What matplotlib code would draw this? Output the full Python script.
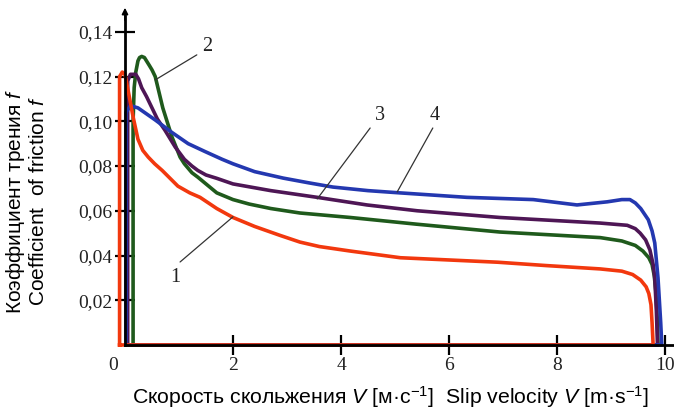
import matplotlib
matplotlib.use("Agg")
import matplotlib.pyplot as plt
from matplotlib.ticker import FuncFormatter
from matplotlib.transforms import ScaledTranslation

plt.rcParams['mathtext.fontset'] = 'custom'
plt.rcParams['mathtext.rm'] = 'Liberation Sans'
plt.rcParams['mathtext.it'] = 'Liberation Sans:italic'

# --- кривые f(V), 1..4 ---
v1 = [-0.1, -0.1, -0.05, 0.0, 0.08, 0.15, 0.24, 0.33, 0.43, 0.55, 0.69, 0.98, 1.2, 1.39,
      1.7, 2.0, 2.4, 2.87, 3.24, 3.6, 4.17, 5.1, 6.0, 6.9, 7.8, 8.8, 9.2, 9.4, 9.55,
      9.65, 9.7, 9.74, 9.76, 9.78]
f1 = [0.0, 0.120, 0.122, 0.121, 0.111, 0.102, 0.092, 0.087, 0.084, 0.081, 0.078, 0.071,
      0.068, 0.066, 0.061, 0.057, 0.053, 0.049, 0.046, 0.044, 0.042, 0.039, 0.038, 0.037,
      0.0355, 0.034, 0.033, 0.0315, 0.029, 0.026, 0.023, 0.018, 0.010, 0.0]

v2 = [0.15, 0.15, 0.17, 0.20, 0.24, 0.27, 0.31, 0.36, 0.45, 0.50, 0.56, 0.63, 0.70, 0.87,
      1.02, 1.1, 1.24, 1.35, 1.5, 1.7, 2.0, 2.3, 2.7, 3.24, 4.17, 5.4, 6.94, 8.8, 9.2,
      9.45, 9.59, 9.7, 9.76, 9.8, 9.83, 9.86, 9.87]
f2 = [0.0, 0.100, 0.115, 0.122, 0.127, 0.1285, 0.129, 0.1285, 0.125, 0.123, 0.120, 0.113,
      0.106, 0.093, 0.084, 0.081, 0.077, 0.075, 0.072, 0.068, 0.065, 0.063, 0.061, 0.059,
      0.057, 0.054, 0.0505, 0.048, 0.0465, 0.0445, 0.042, 0.039, 0.036, 0.031, 0.024,
      0.010, 0.0]

v3 = [0.05, 0.05, 0.10, 0.20, 0.25, 0.31, 0.40, 0.50, 0.60, 0.74, 0.93, 1.1, 1.24, 1.35,
      1.5, 1.7, 2.0, 2.7, 3.56, 4.48, 5.41, 6.94, 8.8, 9.3, 9.45, 9.54, 9.64, 9.72, 9.78,
      9.81, 9.84, 9.86]
f3 = [0.0, 0.118, 0.121, 0.121, 0.119, 0.115, 0.111, 0.106, 0.101, 0.096, 0.0885, 0.083,
      0.080, 0.078, 0.076, 0.0745, 0.072, 0.069, 0.066, 0.0626, 0.060, 0.057, 0.0545,
      0.0535, 0.052, 0.050, 0.047, 0.0425, 0.036, 0.030, 0.015, 0.0]

v4 = [0.02, 0.02, 0.10, 0.24, 0.56, 0.87, 1.17, 1.48, 1.8, 2.0, 2.4, 2.93, 3.4, 3.85,
      4.5, 5.09, 6.33, 7.56, 8.37, 8.93, 9.2, 9.35, 9.45, 9.55, 9.69, 9.76, 9.81, 9.87,
      9.92, 9.94]
f4 = [0.0, 0.104, 0.107, 0.106, 0.1006, 0.095, 0.090, 0.0865, 0.083, 0.081, 0.0775,
      0.0746, 0.0725, 0.0706, 0.069, 0.068, 0.066, 0.065, 0.0626, 0.064, 0.065, 0.065,
      0.0635, 0.061, 0.056, 0.051, 0.0456, 0.030, 0.010, 0.0]

x_ticks = [0, 2, 4, 6, 8, 10]
y_ticks = [0.02, 0.04, 0.06, 0.08, 0.10, 0.12, 0.14]

# номера кривых: текст, начало выноски, точка на кривой
labels = ['1', '2', '3', '4']
label_pos = [(0.93, 0.030), (1.52, 0.1333), (4.72, 0.1028), (5.74, 0.1028)]
leader_start = [(1.02, 0.0371), (1.33, 0.1297), (4.54, 0.097), (5.70, 0.097)]
leader_end = [(2.0, 0.0573), (0.56, 0.1185), (3.56, 0.0653), (5.04, 0.0684)]

fig = plt.figure(figsize=(6.74, 4.12), dpi=100)
ax = fig.add_axes([0.1614, 0.1464, 0.8373, 0.8415])

curves = [
    (v2, f2, '#1f5a1c'),
    (v3, f3, '#4e1655'),
    (v4, f4, '#2438b0'),
    (v1, f1, '#f2380e'),
]
for v, f, c in curves:
    # замыкаем кривую вдоль оси абсцисс
    ax.plot(v + [v[0]], f + [0.0], color=c, lw=2.6, solid_joinstyle='round', zorder=2)

ax.set_xlim(-0.3, 10.15)
ax.set_ylim(-0.003, 0.152)

for s in ['top', 'right']:
    ax.spines[s].set_visible(False)
ax.spines['left'].set_position(('data', 0))
ax.spines['bottom'].set_position(('data', 0))
ax.spines['left'].set_bounds(0, 0.147)
ax.spines['bottom'].set_bounds(0, 10.15)
for s in ['left', 'bottom']:
    ax.spines[s].set_linewidth(2.0)
    ax.spines[s].set_zorder(3)

ax.annotate('', xy=(0, 0.152), xytext=(0, 0.144),
            arrowprops=dict(arrowstyle='-|>', color='black', lw=1.2,
                            mutation_scale=9), zorder=4)

ax.set_xticks(x_ticks)
ax.set_yticks(y_ticks)
ax.xaxis.set_major_formatter(FuncFormatter(lambda x, p: f'{x:g}'))
ax.yaxis.set_major_formatter(FuncFormatter(lambda y, p: f'{y:.2f}'.replace('.', ',')))
ax.tick_params(direction='inout', length=14, width=1.6, color='black',
               labelsize=14, pad=2)
for lab in ax.get_xticklabels() + ax.get_yticklabels():
    lab.set_fontfamily('Liberation Serif')
    lab.set_color('#222222')
ax.xaxis.get_major_ticks()[0].tick1line.set_visible(False)
zero_lab = ax.get_xticklabels()[0]
zero_lab.set_transform(zero_lab.get_transform() + ScaledTranslation(-12 / 100, 0, fig.dpi_scale_trans))

for txt, tp, ls, le in zip(labels, label_pos, leader_start, leader_end):
    ax.annotate('', xy=le, xytext=ls,
                arrowprops=dict(arrowstyle='-', color='#333333', lw=0.9,
                                shrinkA=0, shrinkB=0))
    ax.text(tp[0], tp[1], txt, family='Liberation Serif', fontsize=14.5,
            ha='center', va='center', color='#222222')

fig.text(0.58, 0.036,
         'Скорость скольжения $V$ [м·с$^{-1}$]  Slip velocity $V$ [m·s$^{-1}$]',
         family='Liberation Sans', fontsize=15.3, ha='center', va='center')
fig.text(0.023, 0.512, 'Коэффициент трения $f$', family='Liberation Sans',
         fontsize=15.0, rotation=90, ha='center', va='center')
fig.text(0.057, 0.512, 'Coefficient  of friction $f$', family='Liberation Sans',
         fontsize=15.0, rotation=90, ha='center', va='center')

fig.savefig('out.png', dpi=100)
